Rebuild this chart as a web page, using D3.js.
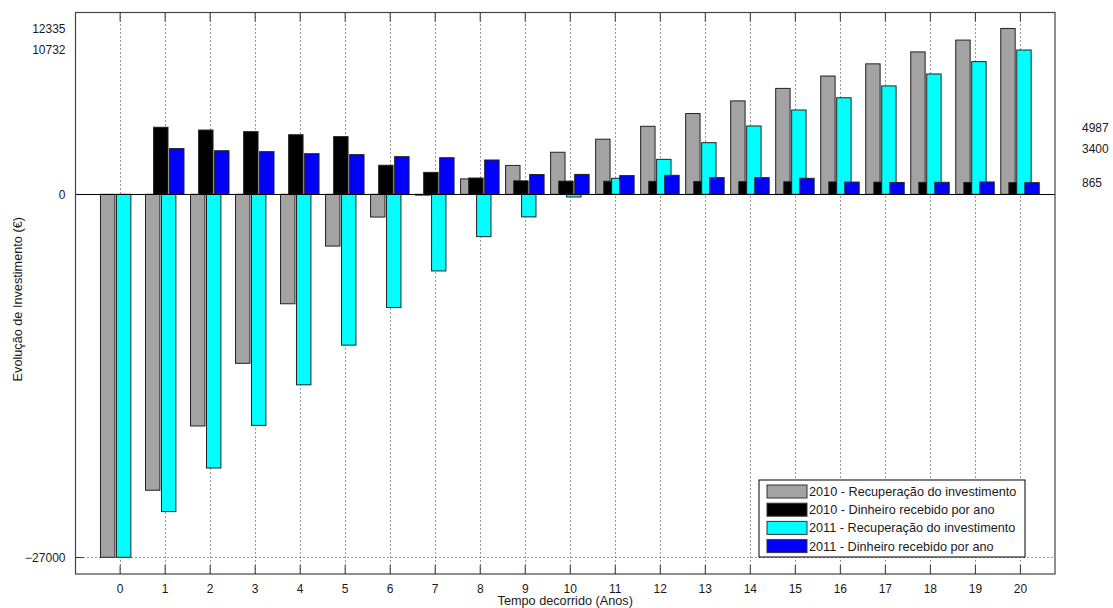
<!DOCTYPE html>
<html>
<head>
<meta charset="utf-8">
<script src="https://cdn.jsdelivr.net/npm/d3@7"></script>
<style>
  body { margin: 0; background: #fff; }
  text { font-family: "Liberation Sans", Arial, sans-serif; font-size: 12px; fill: #1a1a1a; }
</style>
</head>
<body>
<div id="chart"></div>
<script>
// anos (eixo x)
var years = [0, 1, 2, 3, 4, 5, 6, 7, 8, 9, 10, 11, 12, 13, 14, 15, 16, 17, 18, 19, 20];

// 2010 - recuperacao do investimento (acumulado)
var rec2010 = [-27000, -22013, -17233, -12573, -8143, -3853, -1693, -63, 1147, 2147, 3127,
  4097, 5057, 6007, 6947, 7877, 8797, 9702, 10592, 11470, 12335];
// 2010 - dinheiro recebido por ano
var din2010 = [0, 4987, 4780, 4660, 4430, 4290, 2160, 1630, 1210, 1000, 980,
  970, 960, 950, 940, 930, 920, 905, 890, 878, 865];
// 2011 - recuperacao do investimento (acumulado)
var rec2011 = [-27000, -23600, -20360, -17190, -14170, -11220, -8420, -5700, -3150, -1680, -200,
  1190, 2600, 3840, 5080, 6270, 7180, 8060, 8950, 9867, 10732];
// 2011 - dinheiro recebido por ano
var din2011 = [0, 3400, 3240, 3170, 3020, 2950, 2800, 2720, 2550, 1470, 1480,
  1390, 1410, 1240, 1240, 1190, 910, 880, 890, 917, 865];

var leftTicks = [-27000, 0, 10732, 12335];
var rightTicks = [865, 3400, 4987];
var gridY = [-27000];

var seriesNames = [
  "2010 - Recuperação do investimento",
  "2010 - Dinheiro recebido por ano",
  "2011 - Recuperação do investimento",
  "2011 - Dinheiro recebido por ano"
];
var seriesColors = ["#a3a3a3", "#000000", "#00ffff", "#0000ff"];

(function() {
  var W = 1113, H = 608;
  var x0 = 75.5, x1 = 1055, y0 = 12.5, y1 = 574;
  var bw = 0.32;
  var offsets = [-0.265, -0.085, 0.09, 0.27];
  var series = [rec2010, din2010, rec2011, din2011];

  var x = d3.scaleLinear().domain([-0.98, 20.78]).range([x0, x1]);
  var y = d3.scaleLinear().domain([-28243, 13522]).range([y1, y0]);

  var svg = d3.select('#chart').append('svg').attr('width', W).attr('height', H);

  svg.append('rect').attr('x', x0).attr('y', y0).attr('width', x1 - x0).attr('height', y1 - y0)
    .attr('fill', '#fff');

  // grelha vertical
  svg.append('g').selectAll('line').data(years).enter().append('line')
    .attr('x1', function(d) { return Math.round(x(d)) + 0.5; })
    .attr('x2', function(d) { return Math.round(x(d)) + 0.5; })
    .attr('y1', y0).attr('y2', y1)
    .attr('stroke', '#333').attr('stroke-dasharray', '1,3');

  svg.append('g').selectAll('line').data(gridY).enter().append('line')
    .attr('x1', x0).attr('x2', x1)
    .attr('y1', function(d) { return Math.round(y(d)) + 0.5; })
    .attr('y2', function(d) { return Math.round(y(d)) + 0.5; })
    .attr('stroke', '#333').attr('stroke-dasharray', '1,3');

  // barras
  series.forEach(function(s, i) {
    svg.append('g').selectAll('rect').data(years).enter().append('rect')
      .attr('x', function(d) { return x(d + offsets[i] - bw / 2); })
      .attr('width', x(bw) - x(0))
      .attr('y', function(d, j) { return y(Math.max(0, s[j])); })
      .attr('height', function(d, j) { return Math.abs(y(s[j]) - y(0)); })
      .attr('fill', seriesColors[i])
      .attr('stroke', '#222')
      .attr('stroke-width', 1)
      .style('display', function(d, j) { return s[j] === 0 ? 'none' : null; });
  });

  // linha do zero
  svg.append('line').attr('x1', x0).attr('x2', x1)
    .attr('y1', Math.round(y(0)) + 0.5).attr('y2', Math.round(y(0)) + 0.5)
    .attr('stroke', '#000').attr('stroke-width', 1.2);

  // caixa dos eixos
  svg.append('rect').attr('x', x0).attr('y', y0).attr('width', x1 - x0).attr('height', y1 - y0)
    .attr('fill', 'none').attr('stroke', '#444').attr('stroke-width', 1.2);

  // eixo x em baixo e marcas em cima
  var xAxis = svg.append('g').attr('transform', 'translate(0,' + y1 + ')')
    .call(d3.axisBottom(x).tickValues(years).tickFormat(d3.format('d')).tickSizeInner(-9).tickSizeOuter(0).tickPadding(10));
  xAxis.select('.domain').remove();
  xAxis.selectAll('.tick line').attr('stroke', '#333');
  svg.append('g').attr('transform', 'translate(0,' + y0 + ')')
    .call(d3.axisTop(x).tickValues(years).tickFormat('').tickSizeInner(-9).tickSizeOuter(0))
    .call(function(g) { g.select('.domain').remove(); g.selectAll('.tick line').attr('stroke', '#333'); });

  // eixo y esquerdo
  var yAxis = svg.append('g').attr('transform', 'translate(' + x0 + ',0)')
    .call(d3.axisLeft(y).tickValues(leftTicks).tickFormat(d3.format('d')).tickSize(0).tickPadding(10));
  yAxis.select('.domain').remove();
  svg.append('line').attr('x1', x0).attr('x2', x0 + 8)
    .attr('y1', Math.round(y(-27000)) + 0.5).attr('y2', Math.round(y(-27000)) + 0.5)
    .attr('stroke', '#333');

  // eixo y direito
  var yRight = svg.append('g').attr('transform', 'translate(' + x1 + ',0)')
    .call(d3.axisRight(y).tickValues(rightTicks).tickFormat(d3.format('d')).tickSize(0).tickPadding(27));
  yRight.select('.domain').remove();

  svg.selectAll('.tick text').style('font-family', '"Liberation Sans", Arial, sans-serif')
    .style('font-size', '12px').attr('fill', '#1a1a1a');

  // titulos dos eixos
  svg.append('text').attr('x', (x0 + x1) / 2).attr('y', 605).attr('text-anchor', 'middle')
    .style('font-size', '12.7px').text('Tempo decorrido (Anos)');
  svg.append('text').attr('transform', 'translate(22,' + ((y0 + y1) / 2 + 6) + ') rotate(-90)')
    .attr('text-anchor', 'middle').style('font-size', '12.7px').text('Evolução de Investimento (€)');

  // legenda
  var lg = svg.append('g').attr('transform', 'translate(759,480)');
  lg.append('rect').attr('width', 266).attr('height', 77).attr('fill', '#fff')
    .attr('stroke', '#000').attr('stroke-width', 1);
  var items = lg.selectAll('g.item').data(seriesNames).enter().append('g').attr('class', 'item')
    .attr('transform', function(d, i) { return 'translate(8,' + (5 + i * 18.2) + ')'; });
  items.append('rect').attr('width', 40).attr('height', 13)
    .attr('fill', function(d, i) { return seriesColors[i]; })
    .attr('stroke', '#333');
  items.append('text').attr('x', 42).attr('y', 11).style('font-size', '12.7px').text(function(d) { return d; });
}).call(this);
</script>
</body>
</html>
